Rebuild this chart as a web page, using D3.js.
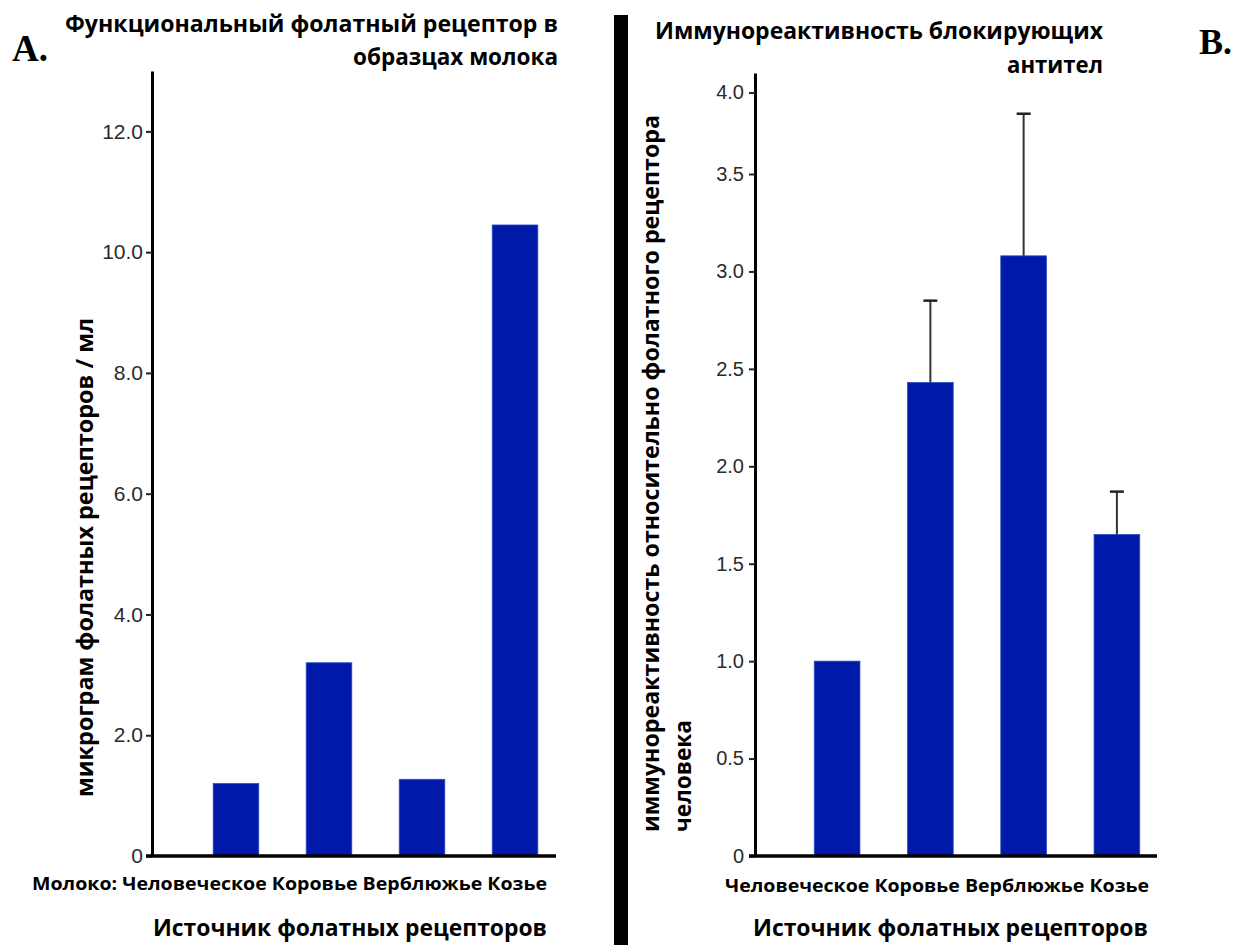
<!DOCTYPE html>
<html>
<head>
<meta charset="utf-8">
<script src="https://cdn.jsdelivr.net/npm/d3@7"></script>
<style>
  html, body { margin: 0; padding: 0; background: #fff; }
  svg { display: block; }
  .bold { font-family: "Open Sans", "Noto Sans", sans-serif; font-weight: 700; fill: #000; }
  .tick text { font-family: "Liberation Sans", Arial, sans-serif; fill: #2b2b2b; }
</style>
</head>
<body>
<svg id="chart" width="1235" height="945"></svg>
<script>
// Milk sources shared by both panels
const categories = ["Человеческое", "Коровье", "Верблюжье", "Козье"];
// Panel A: functional folate receptor, µg per ml
const receptorUg = [1.2, 3.2, 1.27, 10.45];
// Panel B: immunoreactivity relative to human folate receptor (mean and upper error)
const immunoMean = [1.0, 2.43, 3.08, 1.65];
const immunoErr = [null, 0.42, 0.79, 0.22];
// Axis ticks
const ticksA = [0, 2, 4, 6, 8, 10, 12];
const ticksB = [0, 0.5, 1.0, 1.5, 2.0, 2.5, 3.0, 3.5, 4.0];

const titleA = ["Функциональный фолатный рецептор в", "образцах молока"];
const titleB = ["Иммунореактивность блокирующих", "антител"];
const yTitleA = "микрограм фолатных рецепторов / мл";
const yTitleB = ["иммунореактивность относительно фолатного рецептора", "человека"];
const xTitle = "Источник фолатных рецепторов";
const milkPrefix = "Молоко:";

const barFill = "#0019a8";
const barEdge = "#2a4cc6";

const svg = d3.select("#chart");
const fmt = d => d === 0 ? "0" : d3.format(".1f")(d);

// helper for bold text fitted to a given width
function boldText(g, str, x, y, size, len, anchor, rotate) {
  const t = g.append("text")
    .attr("class", "bold")
    .attr("font-size", size)
    .attr("text-anchor", anchor || "start")
    .attr("textLength", len)
    .attr("lengthAdjust", "spacingAndGlyphs")
    .text(str);
  if (rotate) {
    t.attr("transform", `translate(${x},${y}) rotate(-90)`);
  } else {
    t.attr("x", x).attr("y", y);
  }
  return t;
}

// ---------- Panel A ----------
const gA = svg.append("g");
const xA = d3.scaleBand().domain(categories).range([189, 562]).paddingInner(0.51).paddingOuter(0.26);
const yA = d3.scaleLinear().domain([0, 13]).range([856, 71]);
const axisA0 = 152, axisA1 = 556;

gA.selectAll("rect.bar").data(categories).join("rect")
  .attr("class", "bar")
  .attr("x", d => xA(d))
  .attr("width", xA.bandwidth())
  .attr("y", (d, i) => yA(receptorUg[i]))
  .attr("height", (d, i) => yA(0) - yA(receptorUg[i]))
  .attr("fill", barFill)
  .attr("stroke", barEdge)
  .attr("stroke-width", 0.8);

const yAxisA = gA.append("g")
  .attr("transform", `translate(${axisA0},0)`)
  .call(d3.axisLeft(yA).tickValues(ticksA).tickFormat(fmt).tickSize(6).tickSizeOuter(0).tickPadding(3));
yAxisA.select(".domain").attr("stroke", "#000").attr("stroke-width", 3);
yAxisA.selectAll(".tick line").attr("stroke", "#222").attr("stroke-width", 2);
yAxisA.selectAll(".tick text").attr("font-size", 21);

gA.append("line")
  .attr("x1", axisA0 - 6).attr("x2", axisA1)
  .attr("y1", yA(0)).attr("y2", yA(0))
  .attr("stroke", "#000").attr("stroke-width", 3.5);

boldText(gA, milkPrefix + " " + categories.join(" "), 32, 890, 18, 515);
boldText(gA, xTitle, 153, 936, 24, 394);
boldText(gA, yTitleA, 93, 797, 24, 479, "start", true);
boldText(gA, titleA[0], 558, 32, 24, 493, "end");
boldText(gA, titleA[1], 558, 65, 24, 205, "end");

gA.append("text")
  .attr("x", 12).attr("y", 61)
  .attr("font-family", "'Liberation Serif', 'DejaVu Serif', serif")
  .attr("font-weight", 700)
  .attr("font-size", 37)
  .attr("fill", "#000")
  .text("A.");

// ---------- Separator ----------
svg.append("rect")
  .attr("x", 614).attr("y", 15)
  .attr("width", 14).attr("height", 930)
  .attr("fill", "#000");

// ---------- Panel B ----------
const gB = svg.append("g");
const xB = d3.scaleBand().domain(categories).range([790, 1164]).paddingInner(0.51).paddingOuter(0.26);
const yB = d3.scaleLinear().domain([0, 3.5, 4.12]).range([856, 174, 73]);
const axisB0 = 755, axisB1 = 1157;

gB.selectAll("rect.bar").data(categories).join("rect")
  .attr("class", "bar")
  .attr("x", d => xB(d))
  .attr("width", xB.bandwidth())
  .attr("y", (d, i) => yB(immunoMean[i]))
  .attr("height", (d, i) => yB(0) - yB(immunoMean[i]))
  .attr("fill", barFill)
  .attr("stroke", barEdge)
  .attr("stroke-width", 0.8);

// upper error bars
const errG = gB.selectAll("g.err")
  .data(categories.map((c, i) => ({ c, m: immunoMean[i], e: immunoErr[i] })).filter(d => d.e != null))
  .join("g").attr("class", "err");
errG.append("line")
  .attr("x1", d => xB(d.c) + xB.bandwidth() / 2)
  .attr("x2", d => xB(d.c) + xB.bandwidth() / 2)
  .attr("y1", d => yB(d.m))
  .attr("y2", d => yB(d.m + d.e))
  .attr("stroke", "#333").attr("stroke-width", 2);
errG.append("line")
  .attr("x1", d => xB(d.c) + xB.bandwidth() / 2 - 7)
  .attr("x2", d => xB(d.c) + xB.bandwidth() / 2 + 7)
  .attr("y1", d => yB(d.m + d.e))
  .attr("y2", d => yB(d.m + d.e))
  .attr("stroke", "#222").attr("stroke-width", 2.5);

const yAxisB = gB.append("g")
  .attr("transform", `translate(${axisB0},0)`)
  .call(d3.axisLeft(yB).tickValues(ticksB).tickFormat(fmt).tickSize(6).tickSizeOuter(0).tickPadding(5));
yAxisB.select(".domain").attr("stroke", "#000").attr("stroke-width", 3);
yAxisB.selectAll(".tick line").attr("stroke", "#222").attr("stroke-width", 2);
yAxisB.selectAll(".tick text").attr("font-size", 20);

gB.append("line")
  .attr("x1", axisB0 - 6).attr("x2", axisB1)
  .attr("y1", yB(0)).attr("y2", yB(0))
  .attr("stroke", "#000").attr("stroke-width", 3.5);

boldText(gB, categories.join(" "), 725, 892, 18, 424);
boldText(gB, xTitle, 753, 936, 24, 395);
boldText(gB, yTitleB[0], 659, 832, 24, 717, "start", true);
boldText(gB, yTitleB[1], 691, 832, 24, 112, "start", true);
boldText(gB, titleB[0], 655, 39, 24, 448);
boldText(gB, titleB[1], 1103, 73, 24, 96, "end");

gB.append("text")
  .attr("x", 1199).attr("y", 54)
  .attr("font-family", "'Liberation Serif', 'DejaVu Serif', serif")
  .attr("font-weight", 700)
  .attr("font-size", 36)
  .attr("fill", "#000")
  .text("B.");
</script>
</body>
</html>
